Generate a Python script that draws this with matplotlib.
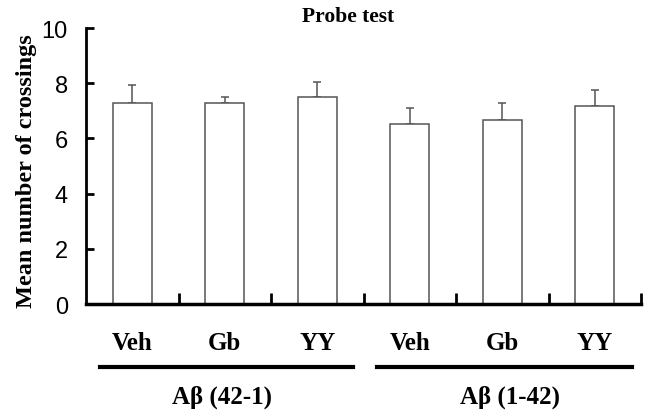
import matplotlib
matplotlib.use("Agg")
import matplotlib.pyplot as plt
from matplotlib.lines import Line2D

# values
treatments = ["Veh", "Gb", "YY", "Veh", "Gb", "YY"]
groups = ["A\u03b2 (42-1)", "A\u03b2 (1-42)"]
means = [7.27, 7.27, 7.51, 6.51, 6.67, 7.18]
errors = [0.66, 0.24, 0.52, 0.60, 0.60, 0.58]
yticks = [0, 2, 4, 6, 8, 10]

serif = "Liberation Serif"
sans = "Liberation Sans"

fig = plt.figure(figsize=(6.52, 4.14), dpi=100)
ax = fig.add_axes([86 / 652, 1 - 305 / 414, 555 / 652, 276 / 414])

x = list(range(len(means)))
ax.bar(x, means, width=0.42, color="white", edgecolor="#555555", linewidth=1.1, zorder=2)
ax.errorbar(x, means, yerr=[[0] * len(errors), errors], fmt="none",
            ecolor="#555555", elinewidth=1.1, capsize=3, capthick=1.1, zorder=1)

ax.set_xlim(-0.5, 5.5)
ax.set_ylim(0, 10)
ax.set_yticks(yticks)
ax.set_yticklabels([str(t) for t in yticks], fontfamily=sans, fontsize=17)
ax.tick_params(axis="y", direction="in", length=6, width=2, pad=13)
ax.set_xticks([i + 0.5 for i in x])
ax.set_xticklabels([])
ax.tick_params(axis="x", direction="in", length=8, width=2)

for s in ["top", "right"]:
    ax.spines[s].set_visible(False)
ax.spines["left"].set_linewidth(2)
ax.spines["bottom"].set_linewidth(2.5)

# treatment labels under the axis
trans = ax.get_xaxis_transform()
for xi, lab in zip(x, treatments):
    ax.text(xi, -0.138, lab, transform=trans, ha="center", va="center",
            fontfamily=serif, fontweight="bold", fontsize=18, clip_on=False)

# group bars and group labels
spans = [(-0.349, 2.386), (2.646, 5.40)]
label_x = [0.97, 4.08]
for (x0, x1), lx, lab in zip(spans, label_x, groups):
    ax.add_line(Line2D([x0, x1], [-0.228, -0.228], transform=trans,
                       color="black", linewidth=3, clip_on=False))
    ax.text(lx, -0.333, lab, transform=trans, ha="center",
            va="center", fontfamily=serif, fontweight="bold", fontsize=18,
            clip_on=False)

ax.text(0.472, 1.043, "Probe test", transform=ax.transAxes, ha="center",
        va="center", fontfamily=serif, fontweight="bold", fontsize=15.5)

fig.text(27 / 652, 1 - 171 / 414, "Mean number of crossings", rotation=90,
         ha="center", va="center", fontfamily=serif, fontweight="bold",
         fontsize=17.5)

fig.savefig("out.png", dpi=100)
